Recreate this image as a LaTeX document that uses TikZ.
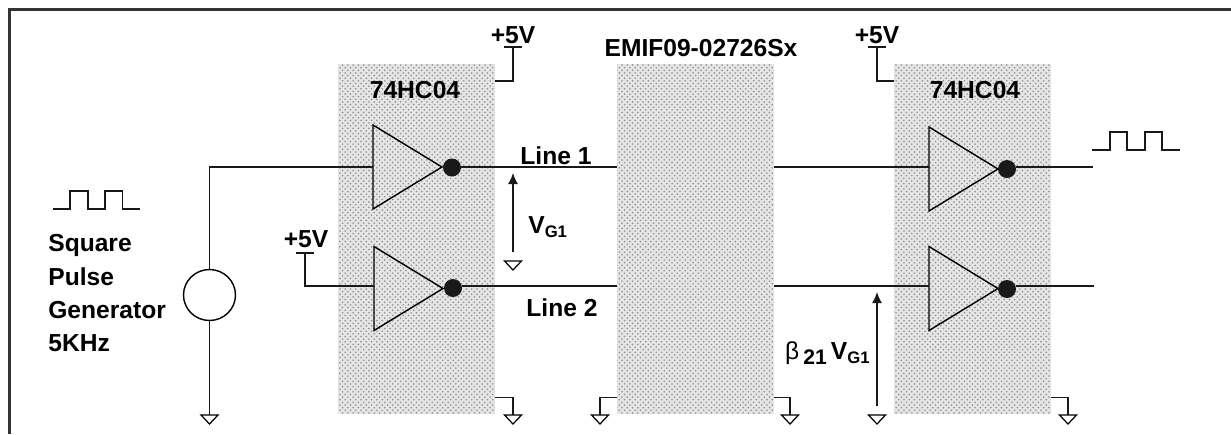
\documentclass[tikz,border=0pt]{standalone}
\usepackage{fontspec}
\setmainfont{Liberation Sans}
\usetikzlibrary{patterns,shapes.geometric,arrows.meta}
\newcommand{\vgone}{V\raisebox{-.35ex}{\fontsize{9.5}{9.5}\selectfont G1}}
\tikzset{
  label/.style={font=\fontsize{14}{14}\selectfont\bfseries,inner sep=0pt},
  wire/.style={line width=.8pt,black!90},
  thickwire/.style={line width=1.15pt,black!90},
  chip/.style={draw=none,inner sep=0pt,minimum width=3.14cm,minimum height=7cm,
    preaction={fill=black!10},pattern=crosshatch dots,pattern color=black!45},
  inverter/.style={draw,isosceles triangle,isosceles triangle stretches,line width=.8pt,
    inner sep=0pt,outer sep=0pt,minimum width=1.68cm,minimum height=1.38cm,anchor=lower side},
  bubble/.style={circle,fill=black!90,inner sep=0pt,minimum size=.36cm},
  gnd/.style={draw,isosceles triangle,isosceles triangle stretches,rotate=-90,line width=.7pt,
    inner sep=0pt,outer sep=0pt,minimum width=.34cm,minimum height=.18cm,anchor=lower side},
  meas/.style={-{Latex[length=.22cm,width=.2cm]},line width=.8pt,black!90},
}
\begin{document}
\begin{tikzpicture}[x=.02cm,y=-.02cm]
\useasboundingbox (0,0) rectangle (1231,434);
\draw[line width=1.5pt,black!80] (9.5,434) -- (9.5,9.5) -- (1231,9.5);
\coordinate (railt) at (0,81);
\coordinate (railb) at (0,397.5);
\coordinate (linea) at (0,167);
\coordinate (lineb) at (0,286);
% packages
\node[chip] (hca) at (416.5,239) {};
\node[chip] (emif) at (695.5,239) {};
\node[chip] (hcb) at (972.5,239) {};
\node[label] (hcatxt) at (415,90) {74HC04};
\node[label] (hcbtxt) at (975,90) {74HC04};
\node[label] (emiftxt) at (701,48) {EMIF09-02726Sx};
% gates
\node[inverter] (inva) at (373,167) {};
\node[inverter] (invb) at (374,288.5) {};
\node[inverter] (invc) at (929,169) {};
\node[inverter] (invd) at (929,288.5) {};
\node[bubble] (buba) at (452,167.5) {};
\node[bubble] (bubb) at (453,288) {};
\node[bubble] (bubc) at (1007,169) {};
\node[bubble] (bubd) at (1007,289) {};
% source
\node[draw,ellipse,line width=.8pt,inner sep=0pt,minimum width=1.04cm,minimum height=1.02cm] (gen) at (209.5,295) {};
\node[label,anchor=west] (txta) at (48,245) {Square};
\node[label,anchor=west] (txtb) at (48,277) {Pulse};
\node[label,anchor=west] (txtc) at (48,310) {Generator};
\node[label,anchor=west] (txtd) at (48,343) {5KHz};
% grounds
\foreach \n/\x in {gnda/209.5,gndb/513,gndc/600,gndd/790,gnde/877,gndf/1068}
  \node[gnd] (\n) at (\x,415) {};
\node[gnd] (gndv) at (513,261) {};
\draw[wire] (gen.south) -- (gnda.lower side);
\draw[wire] (hca.east |- railb) -| (gndb.lower side);
\draw[wire] (emif.west |- railb) -| (gndc.lower side);
\draw[wire] (emif.east |- railb) -| (gndd.lower side);
\draw[wire] (hcb.east |- railb) -| (gndf.lower side);
% supplies
\coordinate (vcca) at (513,47);
\coordinate (vccb) at (305,253);
\coordinate (vccc) at (877,47);
\foreach \c in {vcca,vccb,vccc}
  \draw[wire] ([xshift=-.18cm]\c) -- ([xshift=.18cm]\c);
\node[label] (pfa) at (513,35) {+5V};
\node[label] (pfb) at (306,239) {+5V};
\node[label] (pfc) at (877,35) {+5V};
\draw[wire] (vcca) |- (hca.east |- railt);
\draw[wire] (vccc) |- (hcb.west |- railt);
\draw[wire] (vccb) |- (invb.lower side |- lineb);
% signal lines
\draw[wire] (gen.north) |- (inva.lower side);
\draw[wire] (buba.east |- linea) -- (emif.west |- linea);
\draw[wire] (emif.east |- linea) -- (invc.lower side |- linea);
\coordinate (outa) at (1093,167);
\draw[wire] (bubc.east |- linea) -- (outa);
\draw[thickwire] (bubb.east |- lineb) -- (emif.west |- lineb);
\draw[thickwire] (emif.east |- lineb) -- (invd.lower side |- lineb);
\coordinate (outb) at (1094,286);
\draw[thickwire] (bubd.east |- lineb) -- (outb);
\node[label] (la) at (556,156) {Line 1};
\node[label] (lb) at (562,308) {Line 2};
% measured voltages
\coordinate (vgb) at (513,252);
\coordinate (vgt) at (513,173);
\coordinate (vbb) at (877,406);
\coordinate (vbt) at (877,292);
\draw[meas] (vgb) -- (vgt);
\draw[meas] (vbb) -- (vbt);
\node[label,anchor=west] (vg) at (528,227) {\vgone};
\node[label,anchor=east] (vb) at (870,353) {{\fontsize{14}{14}\selectfont\mdseries β}\,\raisebox{-.4ex}{\fontsize{12}{12}\selectfont 21}\,\vgone};
% pulses
\draw[wire] (53,209) -- (70,209) -- (70,191) -- (88,191) -- (88,209) -- (105,209) -- (105,191) -- (122.5,191) -- (122.5,209) -- (140,209);
\draw[wire] (1092,150) -- (1110,150) -- (1110,132) -- (1127,132) -- (1127,150) -- (1145,150) -- (1145,132) -- (1162,132) -- (1162,150) -- (1179.5,150);
\end{tikzpicture}
\end{document}
